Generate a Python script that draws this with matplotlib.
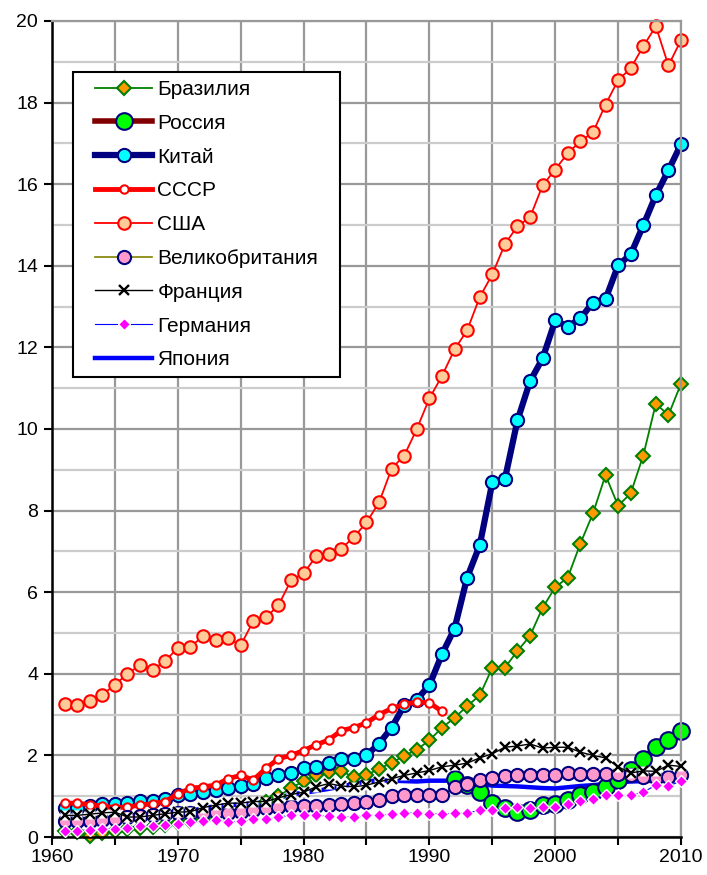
import numpy as np
import matplotlib
matplotlib.use("Agg")
import matplotlib.pyplot as plt
from matplotlib.ticker import MultipleLocator
from matplotlib.patches import Rectangle

plt.rcParams['font.family'] = ['Liberation Sans', 'DejaVu Sans']

years = list(range(1961, 2011))
years_ussr = list(range(1961, 1992))
years_russia = list(range(1992, 2011))
years_japan = list(range(1970, 2011))

brazil = [0.15, 0.12, 0.02, 0.10, 0.15, 0.20, 0.22, 0.25, 0.30, 0.35,
          0.40, 0.45, 0.55, 0.60, 0.62, 0.70, 0.85, 1.00, 1.20, 1.37,
          1.52, 1.60, 1.62, 1.46, 1.52, 1.67, 1.82, 1.99, 2.14, 2.37,
          2.68, 2.92, 3.21, 3.47, 4.15, 4.15, 4.56, 4.93, 5.62, 6.12,
          6.36, 7.19, 7.93, 8.87, 8.12, 8.42, 9.35, 10.62, 10.34, 11.11]
russia = [1.42, 1.27, 1.10, 0.84, 0.70, 0.61, 0.65, 0.78, 0.82, 0.91,
          1.02, 1.10, 1.23, 1.39, 1.63, 1.92, 2.21, 2.37, 2.61]
china = [0.72, 0.72, 0.76, 0.82, 0.82, 0.84, 0.88, 0.88, 0.93, 1.02,
         1.06, 1.10, 1.14, 1.19, 1.24, 1.31, 1.45, 1.53, 1.56, 1.68,
         1.72, 1.82, 1.92, 1.92, 2.00, 2.29, 2.68, 3.23, 3.37, 3.72,
         4.48, 5.11, 6.36, 7.15, 8.69, 8.77, 10.21, 11.17, 11.73, 12.66,
         12.51, 12.71, 13.10, 13.18, 14.01, 14.28, 14.99, 15.73, 16.34, 16.98]
ussr = [0.83, 0.83, 0.79, 0.76, 0.72, 0.74, 0.78, 0.82, 0.87, 1.06,
        1.19, 1.23, 1.27, 1.43, 1.51, 1.40, 1.68, 1.92, 2.00, 2.12,
        2.26, 2.38, 2.61, 2.68, 2.80, 3.00, 3.15, 3.25, 3.31, 3.29, 3.08]
usa = [3.27, 3.23, 3.33, 3.49, 3.73, 4.00, 4.21, 4.10, 4.31, 4.64,
       4.66, 4.92, 4.82, 4.87, 4.70, 5.29, 5.38, 5.68, 6.29, 6.46,
       6.88, 6.93, 7.07, 7.35, 7.71, 8.20, 9.03, 9.35, 10.00, 10.75,
       11.30, 11.95, 12.42, 13.23, 13.79, 14.53, 14.97, 15.19, 15.97, 16.36,
       16.76, 17.05, 17.27, 17.95, 18.55, 18.84, 19.38, 19.87, 18.91, 19.53]
uk = [0.38, 0.38, 0.40, 0.42, 0.45, 0.50, 0.52, 0.54, 0.56, 0.58,
      0.60, 0.60, 0.62, 0.60, 0.62, 0.66, 0.72, 0.74, 0.75, 0.75,
      0.75, 0.79, 0.80, 0.83, 0.87, 0.91, 1.00, 1.03, 1.02, 1.02,
      1.04, 1.22, 1.29, 1.39, 1.45, 1.49, 1.51, 1.51, 1.51, 1.51,
      1.57, 1.55, 1.55, 1.55, 1.55, 1.52, 1.47, 1.45, 1.48, 1.51]
france = [0.53, 0.53, 0.56, 0.59, 0.61, 0.49, 0.49, 0.53, 0.57, 0.61,
          0.62, 0.72, 0.78, 0.83, 0.83, 0.87, 0.87, 0.96, 1.04, 1.10,
          1.23, 1.31, 1.25, 1.23, 1.27, 1.35, 1.43, 1.51, 1.57, 1.63,
          1.72, 1.76, 1.81, 1.94, 2.04, 2.20, 2.23, 2.28, 2.18, 2.20,
          2.20, 2.08, 2.00, 1.94, 1.72, 1.57, 1.62, 1.61, 1.76, 1.73]
germany = [0.15, 0.15, 0.18, 0.19, 0.20, 0.23, 0.27, 0.28, 0.30, 0.32,
           0.37, 0.38, 0.41, 0.37, 0.38, 0.43, 0.43, 0.49, 0.53, 0.53,
           0.53, 0.51, 0.49, 0.49, 0.53, 0.53, 0.56, 0.59, 0.59, 0.57,
           0.56, 0.59, 0.59, 0.65, 0.65, 0.70, 0.74, 0.70, 0.74, 0.74,
           0.80, 0.88, 0.94, 1.02, 1.02, 1.02, 1.10, 1.27, 1.25, 1.37]
japan = [0.60, 0.64, 0.70, 0.76, 0.78, 0.80, 0.83, 0.86, 0.95, 1.05,
         1.08, 1.13, 1.18, 1.24, 1.30, 1.36, 1.39, 1.38, 1.37, 1.36,
         1.38, 1.38, 1.38, 1.35, 1.30, 1.26, 1.25, 1.24, 1.22, 1.20,
         1.19, 1.22, 1.25, 1.27, 1.30, 1.34, 1.36, 1.37, 1.38, 1.38, 1.40]

fig = plt.figure(figsize=(7.07, 8.75), dpi=100)
ax = fig.add_axes([52/707, 38/875, 629/707, 816/875])

# japan first - it sits under everything
ax.plot(years_japan, japan, color="#0000FF", lw=3.2, zorder=2.0, label="Япония")
ax.plot(years, brazil, color="#008000", lw=1.3, marker="D", ms=7.5,
        mfc="#FF9900", mec="#008000", mew=1.5, zorder=2.1, label="Бразилия")
ax.plot(years_russia, russia, color="#800000", lw=4, marker="o", ms=12,
        mfc="#00FF00", mec="#000080", mew=1.5, zorder=2.2, label="Россия")
ax.plot(years, china, color="#000080", lw=4.5, marker="o", ms=9.5,
        mfc="#00FFFF", mec="#000080", mew=1.5, zorder=2.3, label="Китай")
ax.plot(years_ussr, ussr, color="#FF0000", lw=3.5, marker="o", ms=6,
        mfc="white", mec="#FF0000", mew=1.5, zorder=2.4, label="СССР")
ax.plot(years, usa, color="#FF0000", lw=1.3, marker="o", ms=9,
        mfc="#FFCC99", mec="#FF0000", mew=1.5, zorder=2.5, label="США")
ax.plot(years, uk, color="#808000", lw=1.2, marker="o", ms=9.5,
        mfc="#FF99CC", mec="#000080", mew=1.5, zorder=2.6, label="Великобритания")
# white patch behind the crosses
ax.plot(years, france, ls="none", marker="s", ms=7, mfc="white", mec="none", zorder=2.65)
ax.plot(years, france, color="black", lw=1.0, marker="x", ms=7.5,
        mec="black", mew=1.7, zorder=2.7, label="Франция")
ax.plot(years, germany, color="#0000FF", lw=0.8, marker="D", ms=6.5,
        mfc="#FF00FF", mec="white", mew=1.0, zorder=2.8, label="Германия")

for l in ax.lines:
    l.set_clip_on(False)

ax.set_xlim(1960, 2010)
ax.set_ylim(0, 20)
ax.xaxis.set_major_locator(MultipleLocator(10))
ax.xaxis.set_minor_locator(MultipleLocator(5))
ax.yaxis.set_major_locator(MultipleLocator(2))
ax.yaxis.set_minor_locator(MultipleLocator(1))

ax.set_axisbelow(True)
ax.grid(which="major", axis="both", color="#999999", lw=1.6)
ax.grid(which="minor", axis="x", color="#999999", lw=1.6)
ax.grid(which="minor", axis="y", color="#CCCCCC", lw=1.6)

ax.tick_params(axis="both", which="major", direction="out", length=6, width=1.5,
               labelsize=14, color="black")
ax.tick_params(axis="x", which="minor", direction="out", length=6, width=1.5, color="black")
ax.tick_params(axis="y", which="minor", length=0)
ax.tick_params(axis="x", pad=3)
ax.tick_params(axis="y", pad=4)

for s in ["left", "bottom"]:
    ax.spines[s].set_color("black")
    ax.spines[s].set_linewidth(1.8)
for s in ["top", "right"]:
    ax.spines[s].set_color("#999999")
    ax.spines[s].set_linewidth(1.6)

# legend: frame drawn by hand so the inner padding can differ left/top
order = ["Бразилия", "Россия", "Китай", "СССР", "США", "Великобритания",
         "Франция", "Германия", "Япония"]
hs, ls = ax.get_legend_handles_labels()
d = dict(zip(ls, hs))
leg = ax.legend([d[k] for k in order], order, loc="upper left",
                bbox_to_anchor=(95/707, 1 - 80/875), bbox_transform=fig.transFigure,
                frameon=False, borderpad=0, borderaxespad=0, fontsize=15,
                handlelength=2.75, handletextpad=0.25, labelspacing=0.71)
leg.set_zorder(6)
box = Rectangle((73/707, 1 - 377/875), (340 - 73)/707, (377 - 72)/875,
                transform=fig.transFigure, facecolor="white", edgecolor="black",
                lw=1.5, zorder=5.5)
ax.add_patch(box)

fig.savefig("out.png", dpi=100)
